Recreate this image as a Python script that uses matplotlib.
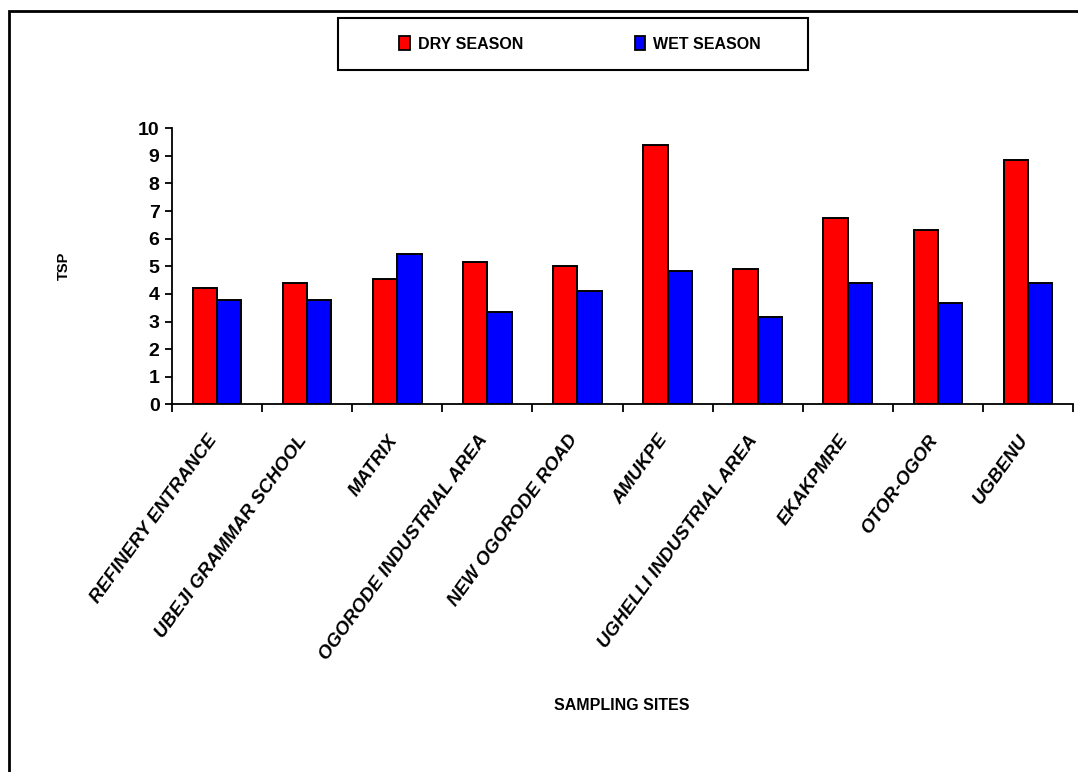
import matplotlib
matplotlib.use("Agg")
import matplotlib.pyplot as plt
from matplotlib.patches import Rectangle, Patch
from matplotlib.transforms import ScaledTranslation
import numpy as np

sites = ["REFINERY ENTRANCE", "UBEJI GRAMMAR SCHOOL", "MATRIX",
         "OGORODE INDUSTRIAL AREA", "NEW OGORODE ROAD", "AMUKPE",
         "UGHELLI INDUSTRIAL AREA", "EKAKPMRE", "OTOR-OGOR", "UGBENU"]
dry_season = [4.20, 4.38, 4.55, 5.17, 5.00, 9.38, 4.91, 6.75, 6.32, 8.85]
wet_season = [3.77, 3.77, 5.43, 3.33, 4.12, 4.82, 3.15, 4.38, 3.68, 4.38]
y_ticks = list(range(0, 11))

plt.rcParams['font.family'] = ['Liberation Sans', 'DejaVu Sans']

W, H = 1078, 772
fig = plt.figure(figsize=(W / 100, H / 100), dpi=100)
ax = fig.add_axes([172 / W, 1 - 404.3 / H, (1073 - 172) / W, (404.3 - 128.3) / H])

x = np.arange(1, len(sites) + 1)
bw = 0.27
ax.bar(x - bw / 2, dry_season, bw, color='#ff0000', edgecolor='black', linewidth=1.4, zorder=3)
ax.bar(x + bw / 2, wet_season, bw, color='#0000ff', edgecolor='black', linewidth=1.4, zorder=3)

ax.set_xlim(0.5, len(sites) + 0.5)
ax.set_ylim(0, 10)
ax.spines['top'].set_visible(False)
ax.spines['right'].set_visible(False)
for s in ('left', 'bottom'):
    ax.spines[s].set_linewidth(1.3)

ax.set_yticks(y_ticks)
ax.set_yticklabels([str(v) for v in y_ticks], fontsize=14, fontweight='bold')
ax.tick_params(axis='y', direction='out', length=5, width=1.3, pad=4)

# category boundaries carry the ticks, centres carry the labels
ax.set_xticks(np.arange(0.5, len(sites) + 1, 1.0))
ax.set_xticklabels([])
ax.tick_params(axis='x', which='major', direction='out', length=6, width=1.3)
ax.set_xticks(x, minor=True)
ax.set_xticklabels(sites, minor=True, rotation=54, ha='right', va='top',
                   rotation_mode='anchor', fontsize=13.5, fontweight='bold',
                   fontstyle='italic')
ax.tick_params(axis='x', which='minor', length=0, pad=20)
shift = ScaledTranslation(-10 / 100, 0, fig.dpi_scale_trans)
for lab in ax.get_xticklabels(minor=True):
    lab.set_transform(lab.get_transform() + shift)

ax.set_ylabel('TSP', fontsize=10.5, fontweight='bold', labelpad=0)
ax.yaxis.set_label_coords(-0.112, 0.5)
fig.text(622 / W, 1 - 706 / H, 'SAMPLING SITES', ha='center', va='center',
         fontsize=11.5, fontweight='bold')

# legend box
fig.patches.append(Rectangle((338 / W, 1 - 70 / H), 470 / W, 52 / H,
                             transform=fig.transFigure, fill=False,
                             edgecolor='black', linewidth=1.5))
handles = [Patch(facecolor='#ff0000', edgecolor='black', linewidth=1.3),
           Patch(facecolor='#0000ff', edgecolor='black', linewidth=1.3)]
fig.legend(handles, ['DRY SEASON', 'WET SEASON'], ncol=2, frameon=False,
           loc='center', bbox_to_anchor=(580 / W, 1 - 44 / H),
           prop={'weight': 'bold', 'size': 11.5}, handlelength=0.65,
           handleheight=1.0, handletextpad=0.5, columnspacing=7.0)

# outer frame
fig.patches.append(Rectangle((9 / W, -0.2), 1.5, 1.2 - 11 / H,
                             transform=fig.transFigure, fill=False,
                             edgecolor='black', linewidth=2.0))

fig.savefig('out.png', dpi=100)
